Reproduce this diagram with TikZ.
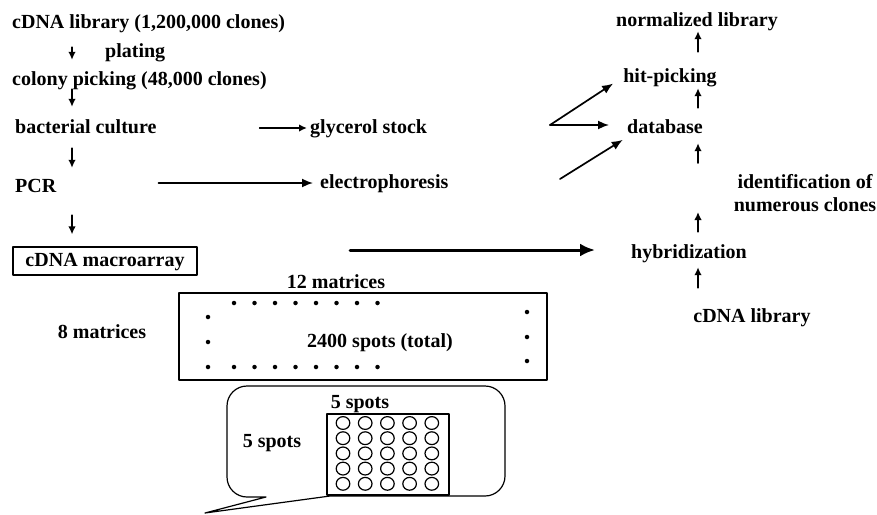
\documentclass[tikz,border=0pt]{standalone}
\usepackage{fontspec}
\setmainfont{Liberation Serif}
\usetikzlibrary{arrows.meta, positioning, calc}

\begin{document}
\begin{tikzpicture}[x=1pt, y=-1pt, >=Latex, line cap=round, line join=round]
	\tikzset{
		lbl/.style={font=\fontsize{20}{22}\selectfont\bfseries, inner sep=0pt, text height=14pt, text depth=4pt},
		arr/.style={line width=1.7pt, -{Latex[length=8pt, width=7.5pt]}},
		longarr/.style={line width=1.7pt, -{Latex[length=11pt, width=9pt]}},
		bigarr/.style={line width=3pt, -{Latex[length=15pt, width=13pt]}},
		box/.style={draw, line width=1.2pt, minimum width=184pt, minimum height=28pt},
		sheet/.style={draw, line width=2.5pt, minimum width=368pt, minimum height=87pt},
		spot/.style={fill, circle, inner sep=0pt, minimum size=4.5pt},
		well/.style={line width=1.2pt}
	}
	
	\useasboundingbox (0,0) rectangle (877,514);
	
	\coordinate (ax) at (72,0);
	\coordinate (rx) at (698,0);
	
	% left column
	\node[lbl, anchor=west] (lib) at (12,23) {cDNA library (1,200,000 clones)};
	\node[lbl, anchor=west] (plat) at (105,52) {plating};
	\node[lbl, anchor=west] (colony) at (12,80) {colony picking (48,000 clones)};
	\node[lbl, anchor=west] (culture) at (15,128) {bacterial culture};
	\node[lbl, anchor=west] (pcr) at (15,187) {PCR};
	\node[lbl, box] (macro) at (105,261) {cDNA macroarray};
	
	\draw[arr, shorten <=15pt, shorten >=11pt] (lib.south -| ax) -- (colony.north -| ax);
	\draw[arr, shorten >=12pt] (colony.south -| ax) -- (culture.north -| ax);
	\draw[arr, shorten <=11pt, shorten >=10pt] (culture.south -| ax) -- (pcr.north -| ax);
	\draw[arr, shorten <=19pt, shorten >=12pt] (pcr.south -| ax) -- (macro.north -| ax);
	
	% middle
	\node[lbl, anchor=west] (glycerol) at (310,128) {glycerol stock};
	\node[lbl, anchor=west] (electro) at (320,183) {electrophoresis};
	
	\draw[arr, shorten <=103pt, shorten >=3pt] (culture.east) -- (glycerol.west);
	\draw[longarr, shorten <=102pt, shorten >=7pt] (pcr.east |- electro) -- (electro.west);
	
	% right column
	\node[lbl] (normlib) at (697,21) {normalized library};
	\node[lbl] (hitpick) at (670,77) {hit-picking};
	\node[lbl] (dbase) at (665,128) {database};
	\node[lbl, align=center] (ident) at (805,206) {identification of\\[1pt]numerous clones};
	\node[lbl] (hybrid) at (689,253) {hybridization};
	\node[lbl] (cdnalib) at (752,317) {cDNA library};
	
	\coordinate (mid1) at (698,212);
	\coordinate (mid2) at (698,163);
	\draw[arr, shorten <=20pt, shorten >=5pt] (cdnalib.north -| rx) -- (hybrid.south -| rx);
	\draw[arr, shorten <=12pt] (hybrid.north -| rx) -- (mid1);
	\draw[arr, shorten >=6pt] (mid2) -- (dbase.south -| rx);
	\draw[arr, shorten <=11pt, shorten >=2pt] (dbase.north -| rx) -- (hitpick.south -| rx);
	\draw[arr, shorten <=16pt, shorten >=1pt] (hitpick.north -| rx) -- (normlib.south -| rx);
	
	\coordinate (fork) at (550,125);
	\coordinate (lo) at (560,179);
	\draw[longarr, shorten >=12pt] (fork) -- (hitpick.west);
	\draw[longarr, shorten >=18pt] (fork) -- (fork -| dbase.west);
	\draw[longarr, shorten >=5pt] (lo) -- (dbase.south west);
	
	\coordinate (thk) at (350,250);
	\draw[bigarr, shorten >=36pt] (thk) -- (thk -| hybrid.west);
	
	% macroarray sheet
	\node[sheet] (array) at (363,336.5) {};
	\node[lbl] (twelve) at (336,283) {12 matrices};
	\node[lbl] (eight) at (102,333) {8 matrices};
	\node[lbl] (total) at (380,342) {2400 spots (total)};
	
	\foreach \i in {0,...,7}
		\node[spot] at (234+20.5*\i,303) {};
	\foreach \i in {0,...,7}
		\node[spot] at (234+20.5*\i,367) {};
	\foreach \y in {317,342,367}
		\node[spot] at (208,\y) {};
	\foreach \y in {312,337,361}
		\node[spot] at (527,\y) {};
	
	% zoomed matrix
	\draw[line width=1.2pt] (266,497) -- (205,513) -- (330,496)
		{[rounded corners=20pt] -- (505,496) -- (505,386) -- (227,386) -- (227,497) -- (266,497)};
	\node[draw, line width=1.2pt, minimum width=122pt, minimum height=81pt] (grid) at (388,454.5) {};
	\node[lbl] (fivetop) at (360,403) {5 spots};
	\node[lbl] (fiveleft) at (272,442) {5 spots};
	
	\foreach \i in {0,...,4}
		\foreach \j in {0,...,4}
			\draw[well] (343+22.2*\i,423+15.2*\j) ellipse [x radius=6.8pt, y radius=6.4pt];
	
\end{tikzpicture}
\end{document}
